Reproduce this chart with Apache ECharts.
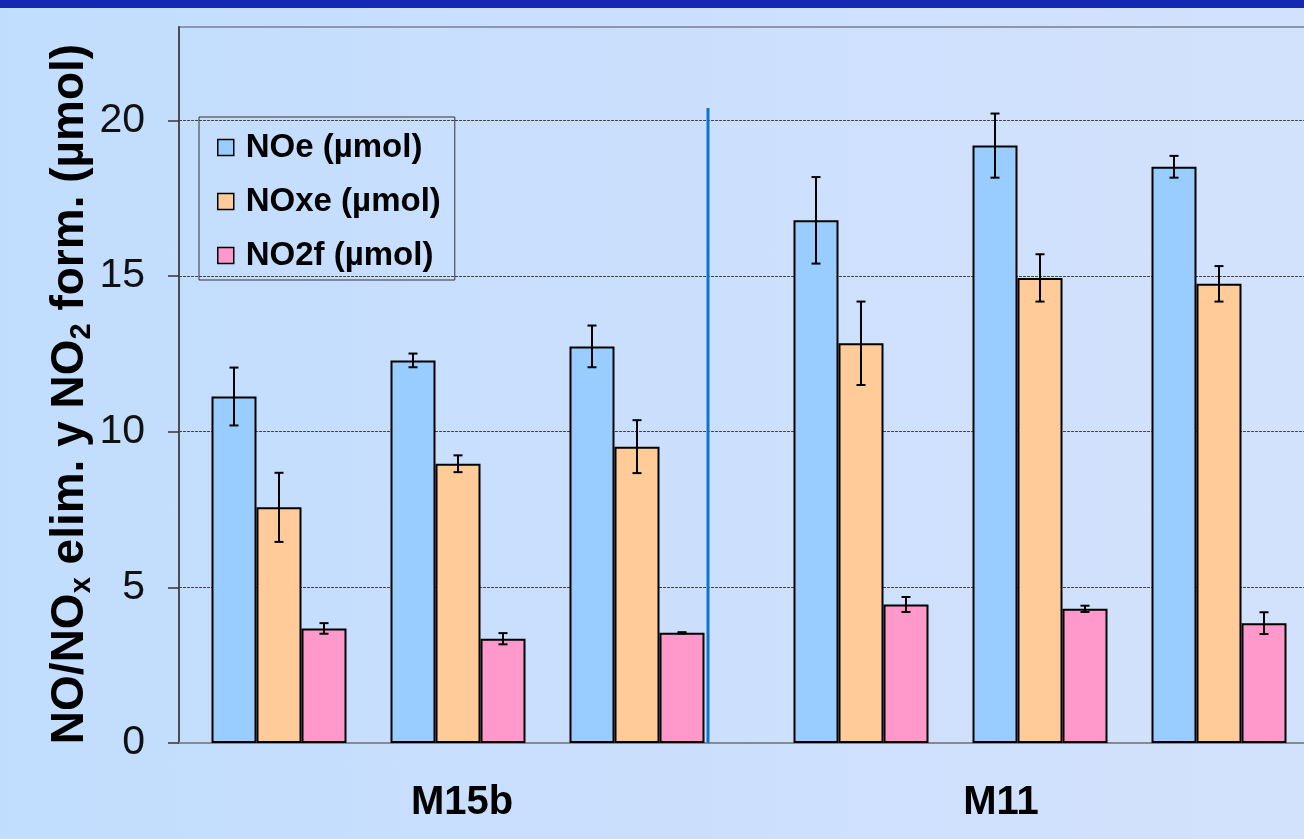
<!DOCTYPE html>
<html>
<head>
<meta charset="utf-8">
<script src="https://cdn.jsdelivr.net/npm/echarts@6/dist/echarts.min.js"></script>
<style>
  html, body { margin: 0; padding: 0; }
  #chart { width: 1304px; height: 839px; background: linear-gradient(to right, #c1ddfd 0%, #cadffd 45%, #d3e2fc 100%); }
</style>
</head>
<body>
<div id="chart"></div>
<script>
// ---- data ----
const groups = ['M15b', 'M11'];
const runs = ['1', '2', '3'];
const seriesNames = ['NOe (µmol)', 'NOxe (µmol)', 'NO2f (µmol)'];
const NOe = [11.13, 12.29, 12.74, 16.79, 19.19, 18.51];
const NOeErr = [0.93, 0.22, 0.67, 1.39, 1.03, 0.35];
const NOxe = [7.57, 8.97, 9.52, 12.84, 14.94, 14.75];
const NOxeErr = [1.11, 0.27, 0.85, 1.34, 0.76, 0.57];
const NO2f = [3.68, 3.35, 3.54, 4.45, 4.31, 3.85];
const NO2fErr = [0.17, 0.18, 0.02, 0.24, 0.10, 0.35];
const yTicks = [0, 5, 10, 15, 20];

// ---- styles ----
const FONT = '"Liberation Sans", Arial, sans-serif';
const colors = ['#99ccff', '#ffcc99', '#ff99cc'];
const BAR_W = 45;
const Y_MAX = 23;

const values = [NOe, NOxe, NO2f];
const errs = [NOeErr, NOxeErr, NO2fErr];

const chart = echarts.init(document.getElementById('chart'), null, { renderer: 'canvas' });

const grids = [
  { left: 179, top: 27, right: -20, bottom: 96, show: true, borderColor: '#8c97ab', borderWidth: 2, backgroundColor: 'transparent', outerBoundsMode: 'none', containLabel: false },
  { left: 189.5, top: 27, width: 537, bottom: 96, outerBoundsMode: 'none', containLabel: false },
  { left: 771.5, top: 27, width: 537, bottom: 96, outerBoundsMode: 'none', containLabel: false }
];

const xAxes = [
  { gridIndex: 0, type: 'value', min: 0, max: 1, axisLine: { show: true, lineStyle: { color: '#8a8a8a', width: 2 } }, axisTick: { show: false }, axisLabel: { show: false }, splitLine: { show: false } },
  { gridIndex: 1, type: 'category', data: runs, axisLine: { show: false }, axisTick: { show: false }, axisLabel: { show: false },
    name: groups[0], nameLocation: 'middle', nameGap: 40, nameMoveOverlap: false,
    nameTextStyle: { fontFamily: FONT, fontSize: 40, fontWeight: 'bold', color: '#000', padding: [0, 0, 0, 8] } },
  { gridIndex: 2, type: 'category', data: runs, axisLine: { show: false }, axisTick: { show: false }, axisLabel: { show: false },
    name: groups[1], nameLocation: 'middle', nameGap: 40, nameMoveOverlap: false,
    nameTextStyle: { fontFamily: FONT, fontSize: 40, fontWeight: 'bold', color: '#000', padding: [0, 78, 0, 0] } }
];

const yAxes = [
  { gridIndex: 0, type: 'value', min: 0, max: Y_MAX, interval: 5,
    axisLine: { show: true, lineStyle: { color: '#4d4d4d', width: 2 } },
    axisTick: { show: true, inside: false, length: 11, lineStyle: { color: '#333', width: 1.5 }, customValues: yTicks },
    axisLabel: { show: true, margin: 34, fontFamily: FONT, fontSize: 41, color: '#111', customValues: yTicks },
    splitLine: { show: true, lineStyle: { color: '#444', width: 1, type: [3, 1] } },
    name: '{b|NO/NO}{s|x}{b| elim. y NO}{s|2}{b| form. (µmol)}',
    nameLocation: 'middle', nameGap: 83, nameRotate: 90, nameMoveOverlap: false,
    nameTextStyle: {
      fontFamily: FONT, color: '#000', padding: [0, 18, 0, 0],
      rich: {
        b: { fontFamily: FONT, fontSize: 46, fontWeight: 'bold', color: '#000', lineHeight: 52 },
        s: { fontFamily: FONT, fontSize: 29, fontWeight: 'bold', color: '#000', lineHeight: 24, verticalAlign: 'bottom' }
      }
    }
  },
  { gridIndex: 1, type: 'value', min: 0, max: Y_MAX, show: false, splitLine: { show: false } },
  { gridIndex: 2, type: 'value', min: 0, max: Y_MAX, show: false, splitLine: { show: false } }
];

function errRender(offsetIdx) {
  return function (params, api) {
    const hi = api.coord([api.value(0), api.value(1)]);
    const lo = api.coord([api.value(0), api.value(2)]);
    const cx = hi[0] + (offsetIdx - 1) * BAR_W;
    const cap = 4.5;
    const st = { stroke: '#000', lineWidth: 2 };
    return {
      type: 'group',
      children: [
        { type: 'line', shape: { x1: cx, y1: hi[1], x2: cx, y2: lo[1] }, style: st },
        { type: 'line', shape: { x1: cx - cap, y1: hi[1], x2: cx + cap, y2: hi[1] }, style: st },
        { type: 'line', shape: { x1: cx - cap, y1: lo[1], x2: cx + cap, y2: lo[1] }, style: st }
      ]
    };
  };
}

const series = [];
[1, 2].forEach(function (g) {
  const start = (g - 1) * 3;
  values.forEach(function (arr, k) {
    series.push({
      type: 'bar', name: seriesNames[k], xAxisIndex: g, yAxisIndex: g,
      data: arr.slice(start, start + 3),
      barWidth: BAR_W, barGap: '0%',
      itemStyle: { color: colors[k], borderColor: '#000', borderWidth: 2 },
      emphasis: { disabled: true }, animation: false, z: 2
    });
  });
  values.forEach(function (arr, k) {
    const d = [];
    for (let i = 0; i < 3; i++) {
      const v = arr[start + i], e = errs[k][start + i];
      d.push([i, v + e, v - e]);
    }
    series.push({
      type: 'custom', name: 'err' + g + k, xAxisIndex: g, yAxisIndex: g,
      renderItem: errRender(k), data: d, z: 5, animation: false, silent: true,
      encode: { x: 0, y: [1, 2] }
    });
  });
});

const option = {
  backgroundColor: 'transparent',
  animation: false,
  textStyle: { fontFamily: FONT },
  grid: grids,
  xAxis: xAxes,
  yAxis: yAxes,
  legend: {
    data: seriesNames,
    orient: 'vertical',
    left: 199, top: 117,
    padding: [14, 14, 8, 18],
    itemGap: 21,
    itemWidth: 16, itemHeight: 16,
    icon: 'rect',
    borderColor: '#333', borderWidth: 1,
    backgroundColor: 'transparent',
    itemStyle: { borderColor: '#000', borderWidth: 1.5 },
    textStyle: { fontFamily: FONT, fontSize: 33, fontWeight: 'bold', color: '#000', padding: [0, 0, 0, 7] },
    selectedMode: false
  },
  graphic: [
    { type: 'rect', left: 0, top: 0, shape: { width: 1304, height: 8 }, style: { fill: '#1428b4' }, z: 10 },
    { type: 'line', shape: { x1: 708, y1: 108, x2: 708, y2: 743 }, style: { stroke: '#0f74cc', lineWidth: 3 }, z: 10 }
  ],
  series: series
};

chart.setOption(option);
</script>
</body>
</html>
